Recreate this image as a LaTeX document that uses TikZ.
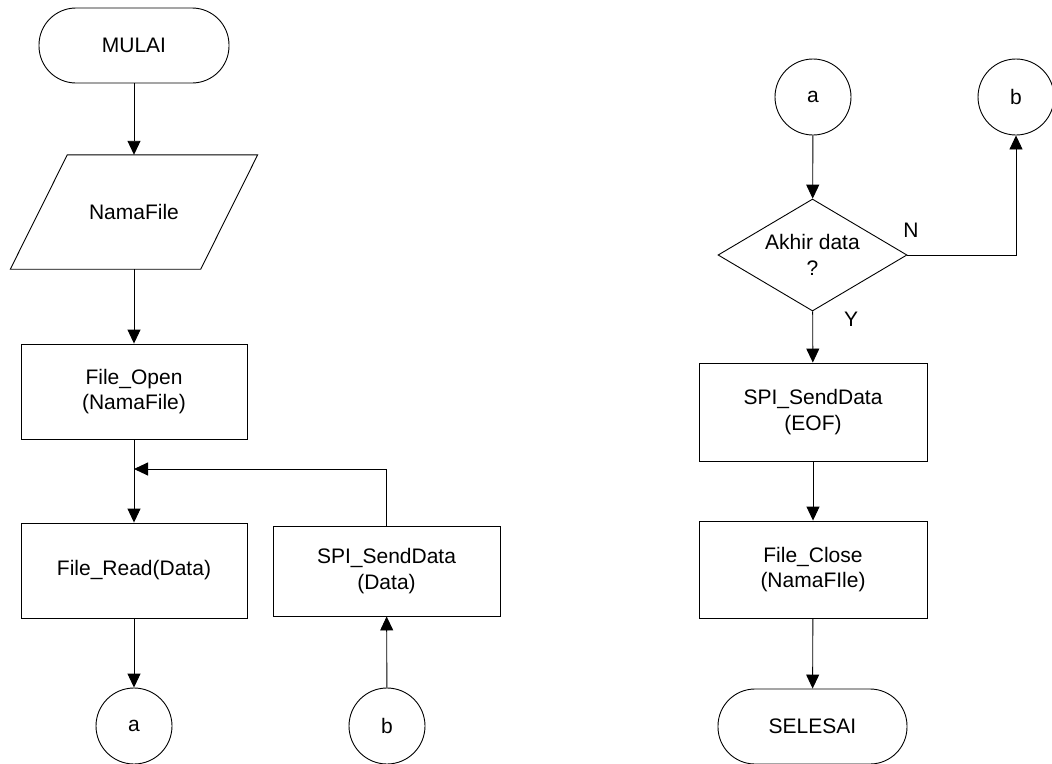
\documentclass[tikz,border=0pt]{standalone}
\usepackage{fontspec}
\setmainfont{Liberation Sans}
\usetikzlibrary{shapes.geometric,arrows.meta}
\begin{document}
\begin{tikzpicture}[x=1pt,y=-1pt,
  every node/.style={font=\fontsize{21}{25.5}\selectfont, align=center, inner sep=0pt},
  terminal/.style={draw, line width=0.9pt, rectangle, rounded corners=37pt, minimum width=190pt, minimum height=75pt},
  procbox/.style={draw, line width=0.9pt, rectangle, minimum width=226pt},
  conn/.style={draw, line width=0.9pt, circle, minimum size=76pt},
  decision/.style={draw, line width=0.9pt, diamond, shape aspect=1.69, minimum width=189pt, minimum height=112pt},
  flow/.style={line width=0.9pt, -{Triangle[length=14pt,width=13pt]}},
  lbl/.style={font=\fontsize{21}{25}\selectfont}]
\useasboundingbox (0,0) rectangle (1052,763);

% left column
\node[terminal] (mulai) at (134,45.5) {MULAI};
\node[minimum width=190pt, minimum height=114pt] (nf) at (134,212) {NamaFile};
\draw[line width=0.9pt] ([xshift=-28.5pt]nf.south west) -- ([xshift=-28.5pt]nf.south east)
  -- ([xshift=28.5pt]nf.north east) -- ([xshift=28.5pt]nf.north west) -- cycle;
\node[procbox, minimum height=95pt] (fo) at (134,391.5) {File\_Open\\(NamaFile)};
\node[procbox, minimum height=95pt] (fr) at (134,570.5) {File\_Read(Data)};
\node[procbox, minimum width=227pt, minimum height=90pt] (sd) at (386.5,571) {SPI\_SendData\\(Data)};
\node[conn] (ca) at (134,726) {a};
\node[conn] (cb) at (387,726) {b};
\coordinate (j) at (134,469);

\draw[flow] (mulai) -- (nf);
\draw[flow] (nf) -- (fo);
\draw[flow] (fo) -- (fr);
\draw[flow] (sd.north) |- (j);
\draw[flow] (fr) -- (ca);
\draw[flow] (cb) -- (sd);

% right column
\node[conn] (ra) at (813,97) {a};
\node[conn] (rb) at (1016,97) {b};
\node[decision] (dec) at (812.5,255) {Akhir data\\?};
\node[procbox, minimum width=228pt, minimum height=98pt] (se) at (813,412) {SPI\_SendData\\(EOF)};
\node[procbox, minimum width=228pt, minimum height=97pt] (fc) at (813,569.5) {File\_Close\\(NamaFIle)};
\node[terminal, minimum width=189pt] (end) at (812.5,726.5) {SELESAI};

\draw[flow] (ra) -- (dec);
\draw[flow] (dec.east) -| (rb.south);
\draw[flow] (dec) -- (se);
\draw[flow] (se) -- (fc);
\draw[flow] (fc) -- (end);
\node[lbl] (ln) at (911,230) {N};
\node[lbl] (ly) at (851,319) {Y};
\end{tikzpicture}
\end{document}
